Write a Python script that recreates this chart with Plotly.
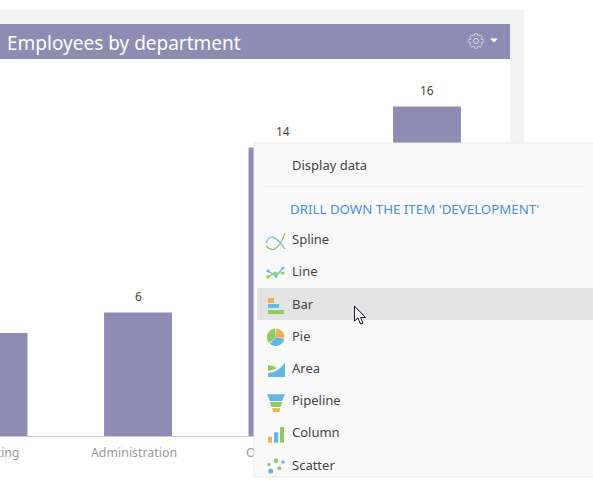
import numpy as np
import plotly.graph_objects as go

# chart data
categories = ["Marketing", "Administration", "Operations", "Development"]
employees = [5, 6, 14, 16]

title_text = "Employees by department"
menu_display = "Display data"
menu_heading = "DRILL DOWN THE ITEM 'DEVELOPMENT'"
menu_items = ["Spline", "Line", "Bar", "Pie", "Area", "Pipeline", "Column", "Scatter"]
menu_item_y = [239, 271, 304, 336, 368, 400, 432, 465]

BAR = "#8f8cb4"
BLUE = "#63b8e4"
GREEN = "#8fcb5e"
ORANGE = "#f2b04c"
TEXT = "#444444"

# the page is shifted left so the first bar runs off the window, as in the screenshot
SHIFT = 40
FIG_W = 593 + SHIFT
FIG_H = 485
AXIS_Y = 436
TOP_Y = 59


def px(x):
    return (x + SHIFT) / FIG_W


def py(y):
    return (AXIS_Y - y) / (AXIS_Y - TOP_Y)


def rect(x0, y0, x1, y1, color, line=None):
    return dict(type="rect", xref="paper", yref="paper", x0=px(x0), x1=px(x1), y0=py(y0), y1=py(y1),
                fillcolor=color, line=dict(color=line or color, width=1 if line else 0), layer="above")


def poly(points, color, close=True, width=0, line=None):
    d = "M" + " L".join(f"{px(a):.5f},{py(b):.5f}" for a, b in points)
    if close:
        d += " Z"
    return dict(type="path", xref="paper", yref="paper", path=d, layer="above",
                fillcolor=color if close else "rgba(0,0,0,0)",
                line=dict(color=line or color, width=width))


def dot(cx, cy, r, color):
    return dict(type="circle", xref="paper", yref="paper", x0=px(cx - r), x1=px(cx + r),
                y0=py(cy + r), y1=py(cy - r), fillcolor=color, line=dict(width=0), layer="above")


def wedge(cx, cy, r, a0, a1, color):
    ang = np.radians(np.linspace(a0, a1, 16))
    pts = [(cx, cy)] + [(cx + r * np.sin(a), cy - r * np.cos(a)) for a in ang]
    return poly(pts, color)


def curve(points, color):
    # smooth icon stroke through a few hand placed points
    d = f"M{px(points[0][0]):.5f},{py(points[0][1]):.5f} C" + " ".join(
        f"{px(a):.5f},{py(b):.5f}" for a, b in points[1:])
    return dict(type="path", xref="paper", yref="paper", path=d, layer="above",
                line=dict(color=color, width=1.2))


def gear(cx, cy):
    ang = np.radians(np.arange(0, 360, 3.75))
    r = 7.4 - 1.5 * (np.cos(8 * ang) < -0.2)
    return [(cx + a * np.sin(t), cy - a * np.cos(t)) for a, t in zip(r, ang)]


shapes = [
    # card frame and header
    rect(-SHIFT, 10, 524, 24, "#f2f2f2"),
    rect(510, 10, 524, 145, "#f2f2f2"),
    rect(-SHIFT, 24, 510, 59, BAR),
    poly(gear(476, 41), "rgba(0,0,0,0)", width=1, line="#d9d8e8"),
    dict(type="circle", xref="paper", yref="paper", x0=px(473.4), x1=px(478.6), y0=py(43.6), y1=py(38.4),
         line=dict(color="#d9d8e8", width=1), layer="above"),
    poly([(490, 38.5), (498, 38.5), (494, 42.5)], "#ffffff"),
    # context menu
    rect(254, 143, 600, 477, "#fafafa", "#e9e9e9"),
    rect(264, 186, 585, 186.8, "#e8e8e8"),
    rect(257, 288, 600, 320, "#e3e3e3"),
    # spline icon
    curve([(266, 243), (270, 234), (275, 235), (285, 249)], BLUE),
    curve([(266, 246), (272, 252), (278, 252), (285, 233)], GREEN),
    # line icon
    poly([(268, 271), (276, 276), (283, 268)], BLUE, close=False, width=1.2),
    poly([(268, 277), (275, 273), (283, 273)], GREEN, close=False, width=1.2),
    dot(268, 271, 1.6, BLUE), dot(276, 276, 1.8, BLUE), dot(283, 268, 1.6, BLUE),
    dot(268, 277, 1.8, GREEN), dot(275, 273, 1.6, GREEN), dot(283, 273, 1.6, GREEN),
    # bar icon
    rect(268, 298, 274, 303, ORANGE),
    rect(268, 304, 279, 308, BLUE),
    rect(268, 310, 284, 314, GREEN),
    # pie icon
    wedge(275.7, 337.3, 8.7, 5, 95, ORANGE),
    wedge(275.7, 337.3, 8.7, 100, 222, BLUE),
    wedge(275.7, 337.3, 8.7, 228, 358, GREEN),
    # area icon
    poly([(268, 377), (268, 373), (274, 372), (279, 369), (285, 363), (285, 377)], BLUE),
    poly([(268, 365), (273, 366), (277, 368), (272, 370), (268, 371)], GREEN),
    # pipeline icon
    poly([(267, 394.3), (285, 394.3), (282, 401), (270, 401)], BLUE),
    poly([(270, 402), (282, 402), (280.7, 407), (271.3, 407)], GREEN),
    poly([(272, 408.3), (280.3, 408.3), (279, 412), (273.3, 412)], ORANGE),
    # column icon
    rect(268, 436.7, 272, 442.7, ORANGE),
    rect(274, 432.3, 278.3, 442.7, BLUE),
    rect(280, 427, 284, 442.7, GREEN),
    # scatter icon
    dot(269, 464.3, 1.6, GREEN), dot(276, 460.7, 2.3, GREEN), dot(283, 462, 1.8, BLUE),
    dot(270.7, 471, 2.5, BLUE), dot(279.3, 468.3, 2, GREEN),
    # mouse pointer
    poly([(354.5, 306), (354.5, 321), (358, 318), (360.5, 324), (363, 323), (360.5, 317.5), (365.5, 317.5)],
         "#ffffff", width=1, line="#1a1a2a"),
]


def label(x, y, text, size=13, color=TEXT):
    return dict(xref="paper", yref="paper", x=px(x), y=py(y), text=text, showarrow=False,
                xanchor="left", yanchor="middle", borderpad=0,
                font=dict(family="Noto Sans", size=size, color=color))


annotations = [label(6, 42.5, title_text, size=19, color="#ffffff"),
               label(291, 165, menu_display),
               label(289, 209, menu_heading, size=13.3, color="#4a8fd8")]
for item, y in zip(menu_items, menu_item_y):
    annotations.append(label(291, y, item))

# value labels sit a fixed distance above the bars
for name, value in zip(categories, employees):
    annotations.append(dict(x=name, y=value, xref="x", yref="y", text=str(value), showarrow=False,
                            yshift=16, yanchor="middle", font=dict(family="Noto Sans", size=12, color=TEXT)))

trace = go.Bar(x=categories, y=employees, marker=dict(color=BAR, line=dict(width=0)), width=0.47,
               hoverinfo="skip")

layout = go.Layout(width=FIG_W, height=FIG_H, autosize=False, showlegend=False,
                   margin=dict(l=0, r=0, t=TOP_Y, b=FIG_H - AXIS_Y, pad=0),
                   paper_bgcolor="#ffffff", plot_bgcolor="#ffffff",
                   xaxis=dict(type="category", categoryorder="array", categoryarray=categories,
                              range=[-0.232, 4.149], showline=True, linecolor="#cccccc", linewidth=1,
                              showgrid=False, ticks="", ticklabelstandoff=5, ticklabelshift=-4,
                              tickfont=dict(family="Noto Sans", size=12.4, color="#999999")),
                   yaxis=dict(range=[0, 18.3], visible=False),
                   shapes=shapes, annotations=annotations)

fig = go.Figure(data=[trace], layout=layout)
fig.write_html("out.html", include_plotlyjs=True, config=dict(displayModeBar=False),
               post_script="document.body.style.margin='0 0 0 -%dpx';document.body.style.overflow='hidden';" % SHIFT)
